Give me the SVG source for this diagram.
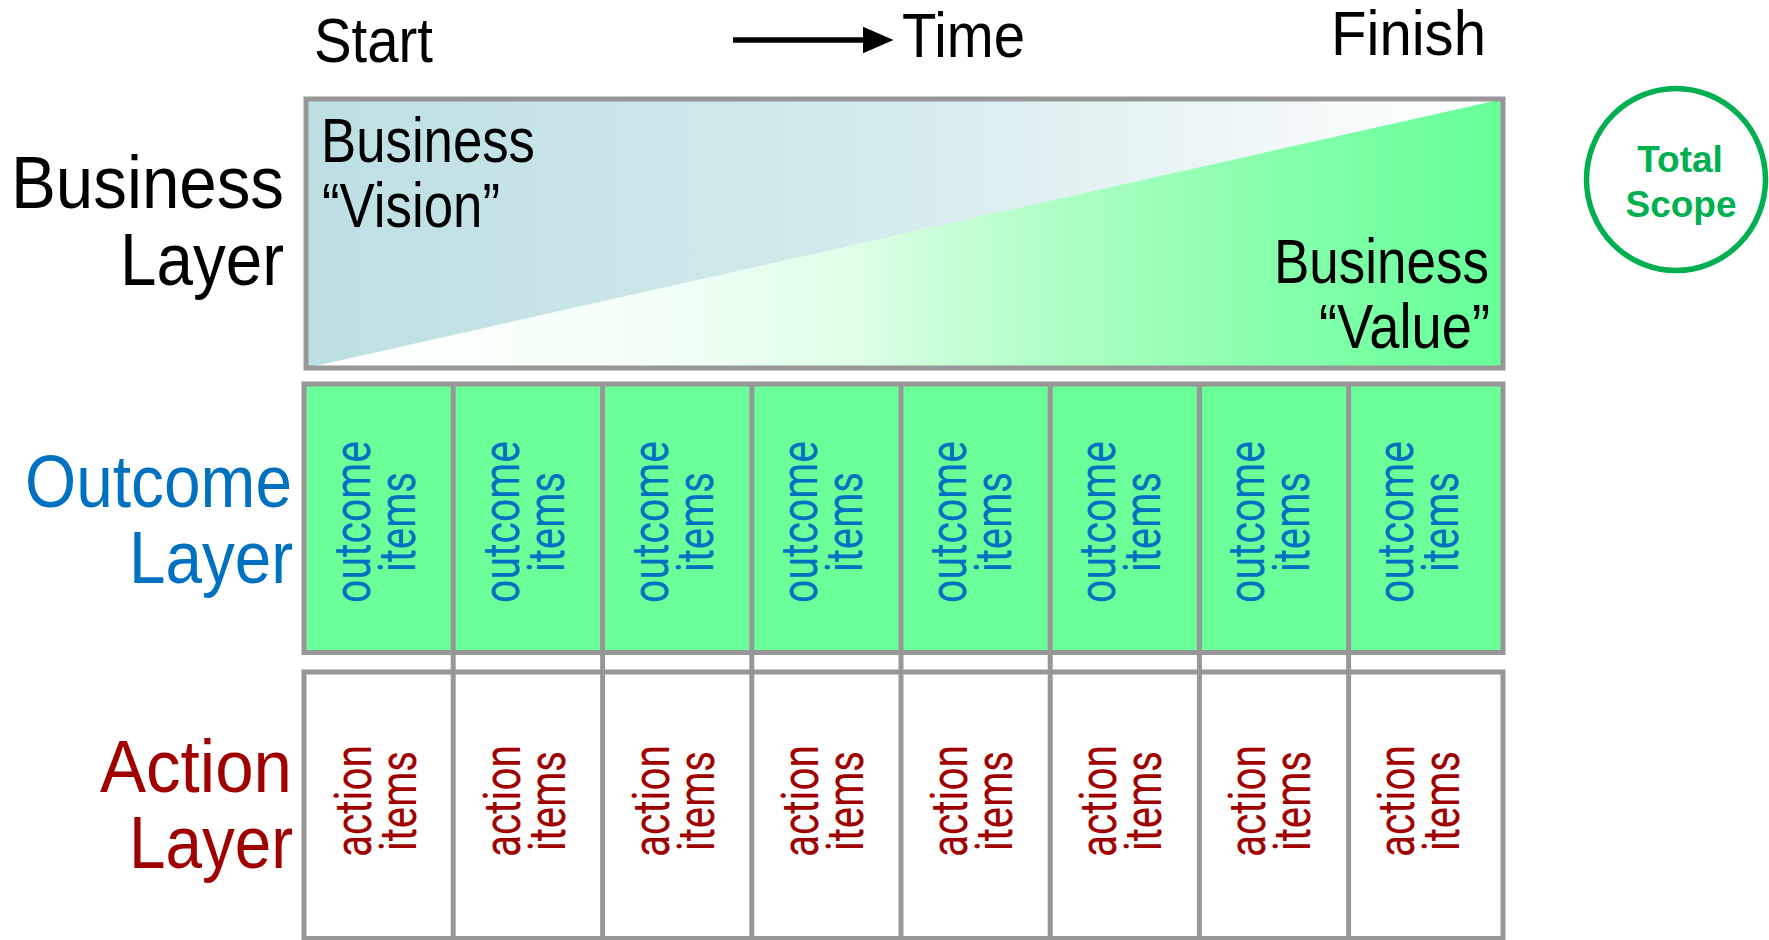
<svg xmlns="http://www.w3.org/2000/svg" width="1769" height="940" viewBox="0 0 1769 940">
<defs>
<linearGradient id="gVision" x1="0" y1="0" x2="1" y2="0">
<stop offset="0" stop-color="#BCDFE3"/>
<stop offset="0.5" stop-color="#D6EBED"/>
<stop offset="0.85" stop-color="#F4F9FA"/>
<stop offset="1" stop-color="#FFFFFF"/>
</linearGradient>
<linearGradient id="gValue" gradientUnits="userSpaceOnUse" x1="306" y1="0" x2="1503" y2="0">
<stop offset="0" stop-color="#FFFFFF"/>
<stop offset="0.3" stop-color="#F2FFF5"/>
<stop offset="0.45" stop-color="#E0FFE8"/>
<stop offset="0.62" stop-color="#B0FFC6"/>
<stop offset="0.8" stop-color="#88FFAD"/>
<stop offset="1" stop-color="#66FF99"/>
</linearGradient>
<style>
.frame{fill:none;stroke:#979797;stroke-width:5}
.div{stroke:#979797;stroke-width:5}
.blk{font-family:"Liberation Sans",Arial,sans-serif;fill:#000}
.top{font-size:63px}
.lbl{font-size:75px}
.inner{font-size:63px}
.outc{font-family:Roboto,"Liberation Sans",sans-serif;font-size:52px;fill:#0070C0}
.act{font-family:Roboto,"Liberation Sans",sans-serif;font-size:52px;fill:#A00000}
.blue{fill:#0070C0}
.red{fill:#A00000}
.scope{font-family:"Liberation Sans",Arial,sans-serif;font-weight:bold;font-size:37px;fill:#00B050;text-anchor:middle}
</style>
</defs>
<rect width="1769" height="940" fill="#FFFFFF"/>

<g id="header">
<text class="blk top" x="314" y="62" textLength="119" lengthAdjust="spacingAndGlyphs">Start</text>
<text class="blk top" x="902" y="57" textLength="123" lengthAdjust="spacingAndGlyphs">Time</text>
<text class="blk top" x="1331" y="55" textLength="155" lengthAdjust="spacingAndGlyphs">Finish</text>
</g>

<g id="time-arrow">
<line x1="733" y1="40" x2="866" y2="40" stroke="#000" stroke-width="5.5"/>
<polygon points="863,26.7 893.5,40 863,53.3" fill="#000"/>
</g>

<g id="layer-labels">
<text class="blk lbl" x="11" y="208" textLength="273" lengthAdjust="spacingAndGlyphs">Business</text>
<text class="blk lbl" x="120" y="285" textLength="164" lengthAdjust="spacingAndGlyphs">Layer</text>
<text class="blk lbl blue" x="25" y="507" textLength="267" lengthAdjust="spacingAndGlyphs">Outcome</text>
<text class="blk lbl blue" x="129" y="583" textLength="164" lengthAdjust="spacingAndGlyphs">Layer</text>
<text class="blk lbl red" x="100" y="792" textLength="192" lengthAdjust="spacingAndGlyphs">Action</text>
<text class="blk lbl red" x="129" y="868" textLength="164" lengthAdjust="spacingAndGlyphs">Layer</text>
</g>

<g id="business-layer">
<rect x="306" y="99" width="1197" height="269" fill="url(#gVision)"/>
<polygon points="306,368 1503,99 1503,368" fill="url(#gValue)"/>
<rect class="frame" x="306" y="99" width="1197" height="269"/>
<text class="blk inner" x="321" y="162" textLength="214" lengthAdjust="spacingAndGlyphs">Business</text>
<text class="blk inner" x="322" y="227" textLength="178" lengthAdjust="spacingAndGlyphs">“Vision”</text>
<text class="blk inner" x="1274" y="283" textLength="215" lengthAdjust="spacingAndGlyphs">Business</text>
<text class="blk inner" x="1319" y="348" textLength="171" lengthAdjust="spacingAndGlyphs">“Value”</text>
</g>

<g id="outcome-layer">
<rect x="304" y="384" width="1199" height="268.5" fill="#6BFF9A"/>
<rect class="frame" x="304" y="384" width="1199" height="268.5"/>
</g>

<g id="action-layer">
<rect x="304" y="672" width="1199" height="266.5" fill="#FFFFFF"/>
<rect class="frame" x="304" y="672" width="1199" height="266.5"/>
</g>

<g id="column-dividers">
<line class="div" x1="453.2" y1="382" x2="453.2" y2="940"/>
<line class="div" x1="602.6" y1="382" x2="602.6" y2="940"/>
<line class="div" x1="751.8" y1="382" x2="751.8" y2="940"/>
<line class="div" x1="901" y1="382" x2="901" y2="940"/>
<line class="div" x1="1050.2" y1="382" x2="1050.2" y2="940"/>
<line class="div" x1="1199.4" y1="382" x2="1199.4" y2="940"/>
<line class="div" x1="1348.6" y1="382" x2="1348.6" y2="940"/>
</g>

<g id="outcome-items">
<g id="outcome-1"><text class="outc" transform="translate(370,522) rotate(-90)" text-anchor="middle" textLength="162" lengthAdjust="spacingAndGlyphs">outcome</text><text class="outc" transform="translate(415,522) rotate(-90)" text-anchor="middle" textLength="100" lengthAdjust="spacingAndGlyphs">items</text></g>
<g id="outcome-2"><text class="outc" transform="translate(519,522) rotate(-90)" text-anchor="middle" textLength="162" lengthAdjust="spacingAndGlyphs">outcome</text><text class="outc" transform="translate(564,522) rotate(-90)" text-anchor="middle" textLength="100" lengthAdjust="spacingAndGlyphs">items</text></g>
<g id="outcome-3"><text class="outc" transform="translate(668,522) rotate(-90)" text-anchor="middle" textLength="162" lengthAdjust="spacingAndGlyphs">outcome</text><text class="outc" transform="translate(713,522) rotate(-90)" text-anchor="middle" textLength="100" lengthAdjust="spacingAndGlyphs">items</text></g>
<g id="outcome-4"><text class="outc" transform="translate(817,522) rotate(-90)" text-anchor="middle" textLength="162" lengthAdjust="spacingAndGlyphs">outcome</text><text class="outc" transform="translate(862,522) rotate(-90)" text-anchor="middle" textLength="100" lengthAdjust="spacingAndGlyphs">items</text></g>
<g id="outcome-5"><text class="outc" transform="translate(966,522) rotate(-90)" text-anchor="middle" textLength="162" lengthAdjust="spacingAndGlyphs">outcome</text><text class="outc" transform="translate(1011,522) rotate(-90)" text-anchor="middle" textLength="100" lengthAdjust="spacingAndGlyphs">items</text></g>
<g id="outcome-6"><text class="outc" transform="translate(1115,522) rotate(-90)" text-anchor="middle" textLength="162" lengthAdjust="spacingAndGlyphs">outcome</text><text class="outc" transform="translate(1160,522) rotate(-90)" text-anchor="middle" textLength="100" lengthAdjust="spacingAndGlyphs">items</text></g>
<g id="outcome-7"><text class="outc" transform="translate(1264,522) rotate(-90)" text-anchor="middle" textLength="162" lengthAdjust="spacingAndGlyphs">outcome</text><text class="outc" transform="translate(1309,522) rotate(-90)" text-anchor="middle" textLength="100" lengthAdjust="spacingAndGlyphs">items</text></g>
<g id="outcome-8"><text class="outc" transform="translate(1413,522) rotate(-90)" text-anchor="middle" textLength="162" lengthAdjust="spacingAndGlyphs">outcome</text><text class="outc" transform="translate(1458,522) rotate(-90)" text-anchor="middle" textLength="100" lengthAdjust="spacingAndGlyphs">items</text></g>
</g>

<g id="action-items">
<g id="action-1"><text class="act" transform="translate(371,801) rotate(-90)" text-anchor="middle" textLength="112" lengthAdjust="spacingAndGlyphs">action</text><text class="act" transform="translate(416,801) rotate(-90)" text-anchor="middle" textLength="100" lengthAdjust="spacingAndGlyphs">items</text></g>
<g id="action-2"><text class="act" transform="translate(520,801) rotate(-90)" text-anchor="middle" textLength="112" lengthAdjust="spacingAndGlyphs">action</text><text class="act" transform="translate(565,801) rotate(-90)" text-anchor="middle" textLength="100" lengthAdjust="spacingAndGlyphs">items</text></g>
<g id="action-3"><text class="act" transform="translate(669,801) rotate(-90)" text-anchor="middle" textLength="112" lengthAdjust="spacingAndGlyphs">action</text><text class="act" transform="translate(714,801) rotate(-90)" text-anchor="middle" textLength="100" lengthAdjust="spacingAndGlyphs">items</text></g>
<g id="action-4"><text class="act" transform="translate(818,801) rotate(-90)" text-anchor="middle" textLength="112" lengthAdjust="spacingAndGlyphs">action</text><text class="act" transform="translate(863,801) rotate(-90)" text-anchor="middle" textLength="100" lengthAdjust="spacingAndGlyphs">items</text></g>
<g id="action-5"><text class="act" transform="translate(967,801) rotate(-90)" text-anchor="middle" textLength="112" lengthAdjust="spacingAndGlyphs">action</text><text class="act" transform="translate(1012,801) rotate(-90)" text-anchor="middle" textLength="100" lengthAdjust="spacingAndGlyphs">items</text></g>
<g id="action-6"><text class="act" transform="translate(1116,801) rotate(-90)" text-anchor="middle" textLength="112" lengthAdjust="spacingAndGlyphs">action</text><text class="act" transform="translate(1161,801) rotate(-90)" text-anchor="middle" textLength="100" lengthAdjust="spacingAndGlyphs">items</text></g>
<g id="action-7"><text class="act" transform="translate(1265,801) rotate(-90)" text-anchor="middle" textLength="112" lengthAdjust="spacingAndGlyphs">action</text><text class="act" transform="translate(1310,801) rotate(-90)" text-anchor="middle" textLength="100" lengthAdjust="spacingAndGlyphs">items</text></g>
<g id="action-8"><text class="act" transform="translate(1414,801) rotate(-90)" text-anchor="middle" textLength="112" lengthAdjust="spacingAndGlyphs">action</text><text class="act" transform="translate(1459,801) rotate(-90)" text-anchor="middle" textLength="100" lengthAdjust="spacingAndGlyphs">items</text></g>
</g>

<g id="total-scope">
<ellipse cx="1676" cy="179.5" rx="89.5" ry="91" fill="none" stroke="#00B050" stroke-width="5.5"/>
<text class="scope" x="1680" y="172">Total</text>
<text class="scope" x="1681" y="217">Scope</text>
</g>

<g id="connectors"/>
</svg>
